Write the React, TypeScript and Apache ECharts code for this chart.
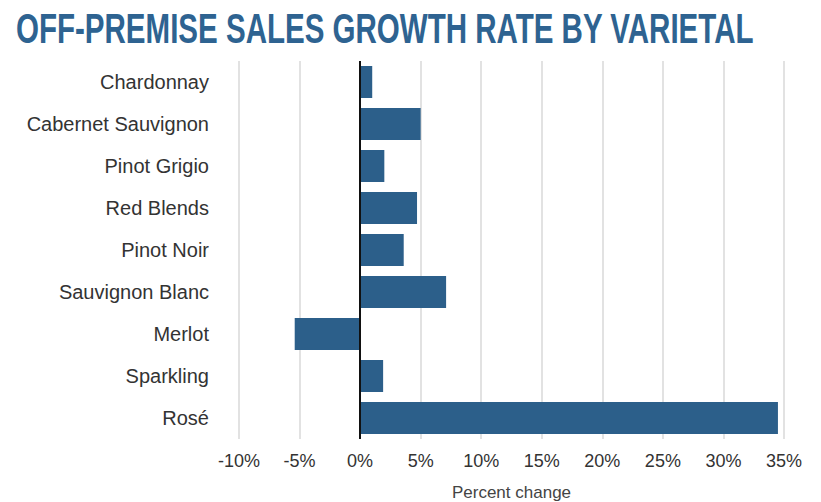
import React, { useEffect, useRef } from "react";
import * as echarts from "echarts";

const categories = [
  "Chardonnay",
  "Cabernet Sauvignon",
  "Pinot Grigio",
  "Red Blends",
  "Pinot Noir",
  "Sauvignon Blanc",
  "Merlot",
  "Sparkling",
  "Rosé",
];
const growthValues = [1.0, 5.0, 2.0, 4.7, 3.6, 7.1, -5.4, 1.9, 34.5];
const titleText = "OFF-PREMISE SALES GROWTH RATE BY VARIETAL";
const axisName = "Percent change";

export default function App() {
  const ref = useRef<HTMLDivElement>(null);
  useEffect(() => {
    if (!ref.current) return;
    const chart = echarts.init(ref.current, null, { renderer: "svg" });
    chart.setOption({
      animation: false,
      backgroundColor: "#ffffff",
      graphic: [
        {
          type: "text",
          x: 16,
          y: 8,
          scaleX: 0.703,
          style: {
            text: titleText,
            fill: "#2e6391",
            font: 'bold 42px "Liberation Sans", Arial, sans-serif',
            textVerticalAlign: "top",
            verticalAlign: "top",
          },
        },
      ],
      grid: {
        left: 239,
        right: 37,
        top: 61,
        bottom: 63,
        containLabel: false,
        outerBoundsMode: "none",
      },
      xAxis: {
        type: "value",
        min: -10,
        max: 35,
        interval: 5,
        name: axisName,
        nameLocation: "middle",
        nameGap: 45,
        nameTextStyle: { color: "#444", fontSize: 17, fontFamily: "Liberation Sans" },
        axisLine: { show: false },
        axisTick: { show: false },
        axisLabel: {
          formatter: "{value}%",
          color: "#333",
          fontSize: 18,
          fontFamily: "Liberation Sans",
          margin: 13,
        },
        splitLine: { show: true, lineStyle: { color: "#e2e2e2", width: 2 } },
      },
      yAxis: {
        type: "category",
        inverse: true,
        data: categories,
        axisLine: { show: false },
        axisTick: { show: false },
        splitLine: { show: false },
        axisLabel: {
          color: "#333",
          fontSize: 20,
          fontFamily: "Liberation Sans",
          margin: 30,
        },
      },
      series: [
        {
          type: "bar",
          data: growthValues,
          barWidth: 32,
          itemStyle: { color: "#2c5f8a" },
          markLine: {
            silent: true,
            symbol: ["none", "none"],
            label: { show: false },
            lineStyle: { color: "#111", width: 2, type: "solid" },
            data: [{ xAxis: 0 }],
          },
        },
      ],
    });
    return () => chart.dispose();
  }, []);
  return (
    <div
      ref={ref}
      style={{ position: "fixed", left: 0, top: 0, width: 821, height: 502 }}
    />
  );
}
